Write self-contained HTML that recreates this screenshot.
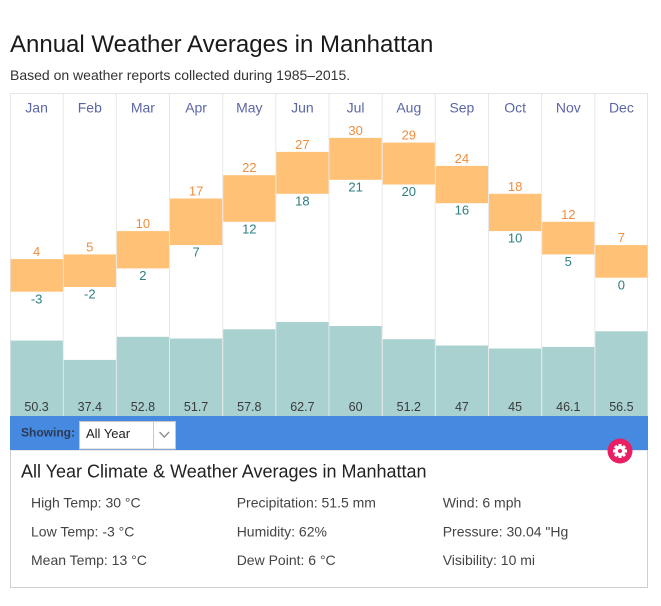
<!DOCTYPE html>
<html>
<head>
<meta charset="utf-8">
<style>
  html,body{margin:0;padding:0;background:#fff;}
  body{width:661px;height:606px;position:relative;overflow:hidden;font-family:"Liberation Sans",Arial,sans-serif;}
  .abs{position:absolute;white-space:nowrap;}
</style>
</head>
<body>
<svg width="661" height="606" style="position:absolute;left:0;top:0" font-family="Liberation Sans, Arial, sans-serif">
  <!-- Title -->
  <text x="10" y="52" font-size="24" fill="#1a1a1a">Annual Weather Averages in Manhattan</text>
  <text x="10" y="80" font-size="14" fill="#333">Based on weather reports collected during 1985–2015.</text>

  <!-- chart frame -->
  <rect x="10.5" y="93.5" width="637" height="323" fill="#fff" stroke="#e6e6e6" stroke-width="1"/>
  <g stroke="#e8e8e8" stroke-width="1">
    <line x1="63.2" y1="94" x2="63.2" y2="416"/>
    <line x1="116.3" y1="94" x2="116.3" y2="416"/>
    <line x1="169.5" y1="94" x2="169.5" y2="416"/>
    <line x1="222.7" y1="94" x2="222.7" y2="416"/>
    <line x1="275.8" y1="94" x2="275.8" y2="416"/>
    <line x1="329" y1="94" x2="329" y2="416"/>
    <line x1="382.2" y1="94" x2="382.2" y2="416"/>
    <line x1="435.3" y1="94" x2="435.3" y2="416"/>
    <line x1="488.5" y1="94" x2="488.5" y2="416"/>
    <line x1="541.7" y1="94" x2="541.7" y2="416"/>
    <line x1="594.8" y1="94" x2="594.8" y2="416"/>
  </g>

  <!-- month labels -->
  <g font-size="14" fill="#5b66a6" text-anchor="middle">
    <text x="36.6" y="112.5">Jan</text>
    <text x="89.8" y="112.5">Feb</text>
    <text x="142.9" y="112.5">Mar</text>
    <text x="196.1" y="112.5">Apr</text>
    <text x="249.3" y="112.5">May</text>
    <text x="302.4" y="112.5">Jun</text>
    <text x="355.6" y="112.5">Jul</text>
    <text x="408.8" y="112.5">Aug</text>
    <text x="461.9" y="112.5">Sep</text>
    <text x="515.1" y="112.5">Oct</text>
    <text x="568.3" y="112.5">Nov</text>
    <text x="621.4" y="112.5">Dec</text>
  </g>

  <!-- temperature bars -->
  <g fill="#ffc175">
    <rect x="10.7" y="259.1" width="52.2" height="32.6"/>
    <rect x="63.7" y="254.4" width="52.2" height="32.6"/>
    <rect x="116.8" y="231.1" width="52.2" height="37.3"/>
    <rect x="170.0" y="198.5" width="52.2" height="46.6"/>
    <rect x="223.2" y="175.2" width="52.2" height="46.6"/>
    <rect x="276.3" y="151.9" width="52.2" height="41.9"/>
    <rect x="329.5" y="137.9" width="52.2" height="41.9"/>
    <rect x="382.7" y="142.6" width="52.2" height="41.9"/>
    <rect x="435.8" y="165.9" width="52.2" height="37.3"/>
    <rect x="489.0" y="193.8" width="52.2" height="37.3"/>
    <rect x="542.2" y="221.8" width="52.2" height="32.6"/>
    <rect x="595.3" y="245.1" width="52.2" height="32.6"/>
  </g>
  <!-- highs -->
  <g font-size="13" fill="#ef8d3b" text-anchor="middle">
    <text x="36.6" y="256.1">4</text>
    <text x="89.8" y="251.4">5</text>
    <text x="142.9" y="228.1">10</text>
    <text x="196.1" y="195.5">17</text>
    <text x="249.3" y="172.2">22</text>
    <text x="302.4" y="148.9">27</text>
    <text x="355.6" y="134.9">30</text>
    <text x="408.8" y="139.6">29</text>
    <text x="461.9" y="162.9">24</text>
    <text x="515.1" y="190.8">18</text>
    <text x="568.3" y="218.8">12</text>
    <text x="621.4" y="242.1">7</text>
  </g>
  <!-- lows -->
  <g font-size="13" fill="#2e7f80" text-anchor="middle">
    <text x="36.6" y="303.3">-3</text>
    <text x="89.8" y="298.6">-2</text>
    <text x="142.9" y="280.0">2</text>
    <text x="196.1" y="256.7">7</text>
    <text x="249.3" y="233.4">12</text>
    <text x="302.4" y="205.4">18</text>
    <text x="355.6" y="191.4">21</text>
    <text x="408.8" y="196.1">20</text>
    <text x="461.9" y="214.7">16</text>
    <text x="515.1" y="242.7">10</text>
    <text x="568.3" y="266.0">5</text>
    <text x="621.4" y="289.3">0</text>
  </g>

  <!-- precipitation bars -->
  <g fill="#a8d1d0">
    <rect x="10.7" y="340.6" width="52.2" height="75.4"/>
    <rect x="63.7" y="359.9" width="52.2" height="56.1"/>
    <rect x="116.8" y="336.8" width="52.2" height="79.2"/>
    <rect x="170.0" y="338.5" width="52.2" height="77.5"/>
    <rect x="223.2" y="329.3" width="52.2" height="86.7"/>
    <rect x="276.3" y="322.0" width="52.2" height="94.0"/>
    <rect x="329.5" y="326.0" width="52.2" height="90.0"/>
    <rect x="382.7" y="339.2" width="52.2" height="76.8"/>
    <rect x="435.8" y="345.5" width="52.2" height="70.5"/>
    <rect x="489.0" y="348.5" width="52.2" height="67.5"/>
    <rect x="542.2" y="346.9" width="52.2" height="69.1"/>
    <rect x="595.3" y="331.3" width="52.2" height="84.7"/>
  </g>
  <g font-size="12.5" fill="#3a3a3a" text-anchor="middle">
    <text x="36.6" y="411">50.3</text>
    <text x="89.8" y="411">37.4</text>
    <text x="142.9" y="411">52.8</text>
    <text x="196.1" y="411">51.7</text>
    <text x="249.3" y="411">57.8</text>
    <text x="302.4" y="411">62.7</text>
    <text x="355.6" y="411">60</text>
    <text x="408.8" y="411">51.2</text>
    <text x="461.9" y="411">47</text>
    <text x="515.1" y="411">45</text>
    <text x="568.3" y="411">46.1</text>
    <text x="621.4" y="411">56.5</text>
  </g>

  <!-- bottom panel -->
  <rect x="10.5" y="450" width="637" height="137.5" fill="#fff" stroke="#cfcfcf" stroke-width="1"/>

  <!-- blue bar -->
  <rect x="10" y="416" width="638" height="34" fill="#4689e0"/>
  <text x="21" y="436.7" font-size="12" font-weight="bold" fill="#2b3a55">Showing:</text>
  <rect x="79.5" y="421.5" width="96" height="27.5" fill="#fff" stroke="#c8c8c8" stroke-width="1"/>
  <line x1="153.5" y1="422" x2="153.5" y2="449" stroke="#c8c8c8" stroke-width="1"/>
  <text x="86" y="438" font-size="13" fill="#222">All Year</text>
  <polyline points="159.5,432 164.3,437 169.1,432" fill="none" stroke="#8a8a8a" stroke-width="1.3"/>

  <!-- gear -->
  <circle cx="620" cy="451" r="12.5" fill="#e91e63"/>
  <g fill="#fff" transform="translate(620,451)">
    <circle r="5.2"/>
    <rect x="-1.6" y="-7" width="3.2" height="14"/>
    <rect x="-1.6" y="-7" width="3.2" height="14" transform="rotate(45)"/>
    <rect x="-1.6" y="-7" width="3.2" height="14" transform="rotate(90)"/>
    <rect x="-1.6" y="-7" width="3.2" height="14" transform="rotate(135)"/>
    <circle r="2" fill="#e91e63"/>
  </g>

  <text x="21" y="477.7" font-size="18" fill="#222">All Year Climate &amp; Weather Averages in Manhattan</text>
  <g font-size="14" fill="#444">
    <text x="31" y="507.7">High Temp: 30 °C</text>
    <text x="31" y="536.3">Low Temp: -3 °C</text>
    <text x="31" y="565">Mean Temp: 13 °C</text>
    <text x="236.7" y="507.7">Precipitation: 51.5 mm</text>
    <text x="236.7" y="536.3">Humidity: 62%</text>
    <text x="236.7" y="565">Dew Point: 6 °C</text>
    <text x="442.7" y="507.7">Wind: 6 mph</text>
    <text x="442.7" y="536.3">Pressure: 30.04 "Hg</text>
    <text x="442.7" y="565">Visibility: 10 mi</text>
  </g>
</svg>
</body>
</html>
